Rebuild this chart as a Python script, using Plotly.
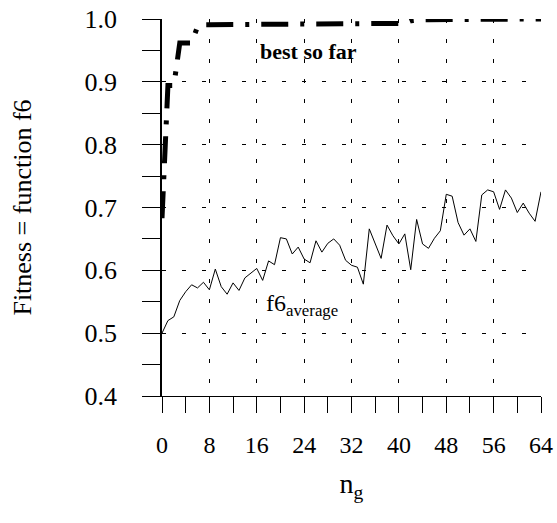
import plotly.graph_objects as go

generations = list(range(65))

best_so_far = [0.683, 0.894, 0.894, 0.962, 0.962, 0.962, 0.988, 0.991, 0.991, 0.991,
               0.991, 0.991, 0.991, 0.991, 0.991, 0.991, 0.992, 0.992, 0.992, 0.992,
               0.992, 0.992, 0.992, 0.992, 0.992, 0.992, 0.992, 0.992, 0.992, 0.992,
               0.992, 0.993, 0.993, 0.993, 0.993, 0.993, 0.993, 0.993, 0.993, 0.993,
               0.993, 0.993, 0.997, 0.999, 0.999, 0.999, 0.999, 0.999, 0.999, 0.999,
               0.999, 1.0, 1.0, 1.0, 1.0, 1.0, 1.0, 1.0, 1.0, 1.0,
               1.0, 1.0, 1.0, 1.0, 1.0]

f6_average = [0.500, 0.520, 0.526, 0.552, 0.566, 0.577, 0.572, 0.581, 0.569, 0.602,
              0.574, 0.562, 0.580, 0.568, 0.588, 0.596, 0.603, 0.584, 0.615, 0.609,
              0.652, 0.650, 0.626, 0.637, 0.618, 0.612, 0.647, 0.629, 0.643, 0.650,
              0.640, 0.616, 0.608, 0.605, 0.578, 0.666, 0.643, 0.619, 0.672, 0.655,
              0.642, 0.658, 0.601, 0.681, 0.642, 0.635, 0.651, 0.663, 0.721, 0.718,
              0.676, 0.656, 0.666, 0.646, 0.720, 0.728, 0.725, 0.697, 0.728, 0.715,
              0.692, 0.707, 0.691, 0.678, 0.725]

x_ticks = [0, 8, 16, 24, 32, 40, 48, 56, 64]
y_ticks = [0.4, 0.5, 0.6, 0.7, 0.8, 0.9, 1.0]
y_tick_labels = ["0.4", "0.5", "0.6", "0.7", "0.8", "0.9", "1.0"]

SERIF = "Liberation Serif"

fig = go.Figure()
fig.add_trace(go.Scatter(x=generations, y=f6_average, mode="lines",
                         line=dict(color="black", width=1), showlegend=False))
fig.add_trace(go.Scatter(x=generations, y=best_so_far, mode="lines",
                         line=dict(color="black", width=5, dash="27px,12px,4px,12px"),
                         showlegend=False))

fig.add_annotation(x=24.7, y=0.948, xref="x", yref="y", text="<b>best so far</b>",
                   showarrow=False, font=dict(family=SERIF, size=22, color="black"))
fig.add_annotation(x=17.3, y=0.545, xref="x", yref="y", xanchor="left",
                   text="f6<sub>average</sub>", showarrow=False,
                   font=dict(family=SERIF, size=24, color="black"))

fig.update_layout(
    width=557, height=523,
    margin=dict(l=162, r=16, t=19, b=127, autoexpand=False),
    paper_bgcolor="white", plot_bgcolor="white",
    font=dict(family=SERIF, color="black"),
)
fig.update_xaxes(
    range=[0, 64], tickvals=x_ticks, ticktext=[str(v) for v in x_ticks],
    ticks="outside", ticklen=16, tickwidth=1, tickcolor="black",
    minor=dict(dtick=4, tick0=0, ticks="outside", ticklen=16, tickwidth=1,
               tickcolor="black", showgrid=False),
    showline=True, linecolor="black", linewidth=1,
    showgrid=True, gridcolor="black", gridwidth=1, griddash="4px,16px",
    tickfont=dict(family=SERIF, size=24, color="black"),
    ticklabelstandoff=11,
    title=dict(text="n<sub>g</sub>", font=dict(family=SERIF, size=28, color="black"),
               standoff=16),
    zeroline=False, automargin=False,
)
fig.update_yaxes(
    range=[0.4, 1.0], tickvals=y_ticks, ticktext=y_tick_labels,
    ticks="outside", ticklen=18, tickwidth=1, tickcolor="black",
    minor=dict(dtick=0.05, tick0=0.4, ticks="outside", ticklen=18, tickwidth=1,
               tickcolor="black", showgrid=False),
    showline=True, linecolor="black", linewidth=1.5,
    showgrid=True, gridcolor="black", gridwidth=1, griddash="4px,16px",
    tickfont=dict(family=SERIF, size=26, color="black"),
    ticklabelstandoff=20,
    title=dict(text="Fitness = function f6",
               font=dict(family=SERIF, size=26, color="black"), standoff=45),
    zeroline=False, automargin=False,
)

fig.write_html("out.html")
